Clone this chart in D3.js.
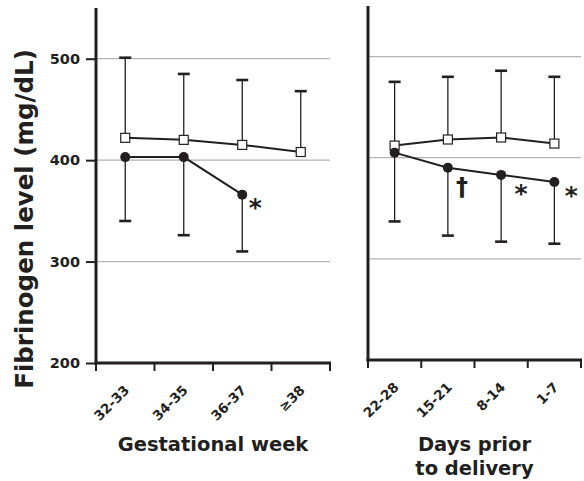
<!DOCTYPE html>
<html>
<head>
<meta charset="utf-8">
<script src="https://cdn.jsdelivr.net/npm/d3@7"></script>
<style>
  body { margin: 0; background: #fff; }
  text { font-family: "DejaVu Sans", Verdana, sans-serif; font-weight: bold; fill: #231f20; }
</style>
</head>
<body>
<div id="chart"></div>
<script>
// data (mean, SD)
var weekCats = ['32-33', '34-35', '36-37', '\u226538'];
var weekControl = [422, 420, 415, 408];
var weekControlSD = [79, 65, 64, 60];
var weekCase = [403, 403, 366, null];
var weekCaseSD = [63, 77, 56, null];
var weekMarks = [null, null, '*', null];

var dayCats = ['22-28', '15-21', '8-14', '1-7'];
var dayControl = [412, 418, 420, 414];
var dayControlSD = [63, 62, 66, 66];
var dayCase = [405, 390, 383, 376];
var dayCaseSD = [68, 67, 66, 61];
var dayMarks = [null, '\u2020', '*', '*'];

var yTicks = [200, 300, 400, 500];

var W = 584, H = 481;
var ink = '#231f20';
var svg = d3.select('#chart').append('svg').attr('width', W).attr('height', H);

function drawPanel(opt) {
  var x = d3.scaleBand().domain(opt.cats).range([opt.x0, opt.x1]).padding(0);
  var y = d3.scaleLinear().domain([200, 550]).range([opt.yBottom, opt.yTop]);
  var g = svg.append('g');
  var cx = function(i) { return x(opt.cats[i]) + x.bandwidth() / 2; };

  // grid
  g.selectAll('line.grid').data(yTicks.slice(1)).enter().append('line')
    .attr('x1', opt.x0).attr('x2', opt.x1)
    .attr('y1', function(d) { return y(d); }).attr('y2', function(d) { return y(d); })
    .attr('stroke', '#b3b3b3').attr('stroke-width', 1.2);

  // y axis
  if (opt.yLabels) {
    var ya = g.append('g').attr('transform', 'translate(' + opt.x0 + ',0)')
      .call(d3.axisLeft(y).tickValues(yTicks).tickSize(10).tickPadding(6));
    ya.select('.domain').remove();
    ya.selectAll('.tick line').attr('stroke', ink).attr('stroke-width', 2);
    ya.selectAll('.tick text').style('font-size', '14.5px').attr('fill', ink);
  }
  g.append('line').attr('x1', opt.x0).attr('x2', opt.x0)
    .attr('y1', y(550)).attr('y2', y(200) + 1.5)
    .attr('stroke', ink).attr('stroke-width', 3);

  // x axis line + ticks at band edges
  g.append('line').attr('x1', opt.x0 - 1.5).attr('x2', opt.x1 + 1)
    .attr('y1', y(200)).attr('y2', y(200))
    .attr('stroke', ink).attr('stroke-width', 3);
  var edges = opt.cats.map(function(c) { return x(c); }).concat([opt.x1]);
  g.selectAll('line.xt').data(edges).enter().append('line')
    .attr('x1', function(d) { return d; }).attr('x2', function(d) { return d; })
    .attr('y1', y(200)).attr('y2', y(200) + 8)
    .attr('stroke', ink).attr('stroke-width', 2);

  // category labels
  g.selectAll('text.cat').data(opt.cats).enter().append('text')
    .attr('transform', function(d) {
      return 'translate(' + (x(d) + x.bandwidth() / 2 + 5) + ',' + (y(200) + 28) + ') rotate(-45)';
    })
    .attr('text-anchor', 'end').style('font-size', '13.5px').text(function(d) { return d; });

  // axis title
  var t = g.append('text').attr('text-anchor', 'middle').style('font-size', '19.5px');
  opt.title.forEach(function(line, k) {
    t.append('tspan').attr('x', (opt.x0 + opt.x1) / 2).attr('y', 451 + k * 24).text(line);
  });

  function series(vals, sds, dir) {
    var idx = d3.range(vals.length).filter(function(i) { return vals[i] != null; });
    // error bars
    idx.forEach(function(i) {
      var end = vals[i] + dir * sds[i];
      g.append('line').attr('x1', cx(i)).attr('x2', cx(i))
        .attr('y1', y(vals[i])).attr('y2', y(end))
        .attr('stroke', ink).attr('stroke-width', 1.3);
      g.append('line').attr('x1', cx(i) - 6).attr('x2', cx(i) + 6)
        .attr('y1', y(end)).attr('y2', y(end))
        .attr('stroke', ink).attr('stroke-width', 2.6);
    });
    var line = d3.line().x(function(i) { return cx(i); }).y(function(i) { return y(vals[i]); });
    g.append('path').datum(idx).attr('d', line)
      .attr('fill', 'none').attr('stroke', ink).attr('stroke-width', 2);
    return idx;
  }

  var cIdx = series(opt.control, opt.controlSD, 1);
  var dIdx = series(opt.cases, opt.casesSD, -1);

  g.selectAll('rect.ctl').data(cIdx).enter().append('rect')
    .attr('x', function(i) { return cx(i) - 4.5; })
    .attr('y', function(i) { return y(opt.control[i]) - 4.5; })
    .attr('width', 9).attr('height', 9)
    .attr('fill', '#fff').attr('stroke', ink).attr('stroke-width', 1.2);
  g.selectAll('circle.case').data(dIdx).enter().append('circle')
    .attr('cx', function(i) { return cx(i); })
    .attr('cy', function(i) { return y(opt.cases[i]); })
    .attr('r', 5).attr('fill', ink);

  // significance marks
  opt.marks.forEach(function(m, i) {
    if (!m) return;
    var off = opt.markOffset[i];
    g.append('text')
      .attr('x', cx(i) + off[0]).attr('y', y(opt.cases[i]) + off[1])
      .attr('text-anchor', 'middle')
      .style('font-size', m === '*' ? '25px' : '24px')
      .text(m);
  });
}

drawPanel({
  cats: weekCats, control: weekControl, controlSD: weekControlSD,
  cases: weekCase, casesSD: weekCaseSD, marks: weekMarks,
  markOffset: [null, null, [13, 21], null],
  x0: 96, x1: 330, yBottom: 363, yTop: 8, yLabels: true,
  title: ['Gestational week']
});

drawPanel({
  cats: dayCats, control: dayControl, controlSD: dayControlSD,
  cases: dayCase, casesSD: dayCaseSD, marks: dayMarks,
  markOffset: [null, [14, 27], [20, 27], [17, 22]],
  x0: 368, x1: 581, yBottom: 360, yTop: 6, yLabels: false,
  title: ['Days prior', 'to delivery']
});

// y axis title
svg.append('text')
  .attr('transform', 'translate(33,219) rotate(-90)')
  .attr('text-anchor', 'middle').style('font-size', '24.5px')
  .text('Fibrinogen level (mg/dL)');
</script>
</body>
</html>
